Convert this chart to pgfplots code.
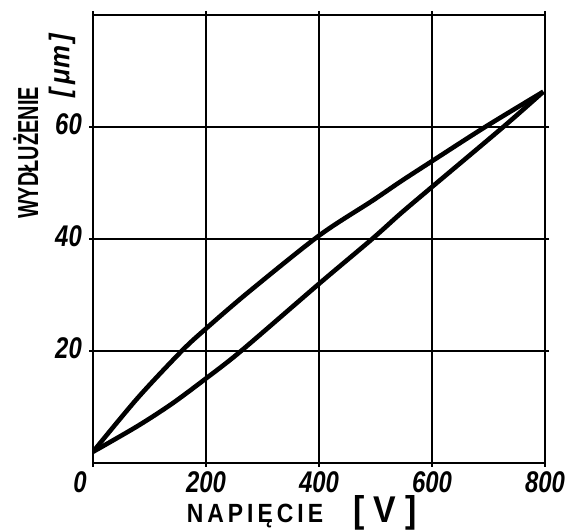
\documentclass[border=0pt]{standalone}
\usepackage{fontspec}
\setmainfont{Liberation Sans}
\usepackage{graphicx}
\usepackage{pgfplots}
\pgfplotsset{compat=1.18}

% hand-lettered look: bold italic, a little taller than wide
\newcommand{\hl}[1]{\scalebox{1}[1.25]{#1}}

\begin{document}
\begin{tikzpicture}[x=1bp,y=1bp]
\useasboundingbox (0,0) rectangle (578,532);
\begin{axis}[
  at={(93bp,69bp)}, anchor=south west,
  scale only axis, width=452bp, height=448bp,
  xmin=0, xmax=800, ymin=0, ymax=80,
  xtick={0,200,400,600,800},
  xticklabels={,\hl{200},\hl{400},\hl{600},\hl{800}},
  ytick={20,40,60},
  yticklabels={\hl{20},\hl{40},\hl{60}},
  grid=major,
  grid style={black, line width=1.7bp},
  axis line style={black, line width=2.8bp},
  tick style={black, line width=1.5bp},
  tick align=outside, major tick length=4bp,
  ticklabel style={font=\fontsize{24}{24}\selectfont\bfseries\itshape, inner sep=0pt},
  xticklabel style={yshift=-4bp},
  yticklabel style={xshift=-7bp, yshift=3bp},
  /pgf/number format/assume math mode=true,
]
% rising branch (upper)
\addplot[black, line width=4.6bp, smooth, tension=0.5] coordinates {
  (0,2) (79,11.6) (157,20) (200,24) (275,30.5) (400,40.6)
  (494,46.8) (545,50.3) (600,53.9) (694,60) (797,66.3)
};
% falling branch (lower)
\addplot[black, line width=4.6bp, smooth, tension=0.5] coordinates {
  (0,2) (79,6.6) (140,10.6) (200,15.1) (262,20) (400,32)
  (494,40) (545,44.6) (600,49.3) (726,60) (797,66.3)
};
\end{axis}
\node[font=\fontsize{24}{24}\selectfont\bfseries\itshape] at (80,50) {\hl{0}};
\node[rotate=90, font=\fontsize{20}{20}\selectfont\bfseries] at (26,379)
  {\scalebox{1}[1.45]{WYDŁUŻENIE}};
\node[rotate=90, font=\fontsize{26}{26}\selectfont\bfseries\itshape] at (62,466)
  {\scalebox{1}[1.1]{[\kern5bp μm\kern3bp]}};
\node[font=\fontsize{23}{23}\selectfont\bfseries] at (255,16)
  {\scalebox{1}[1.15]{N\kern4bp A\kern4bp P\kern4bp I\kern4bp Ę\kern4bp C\kern4bp I\kern4bp E}};
\node[font=\fontsize{34}{34}\selectfont\bfseries] at (385,19)
  {\scalebox{1}[1.1]{[\kern9bp V\kern9bp]}};
\end{tikzpicture}
\end{document}
